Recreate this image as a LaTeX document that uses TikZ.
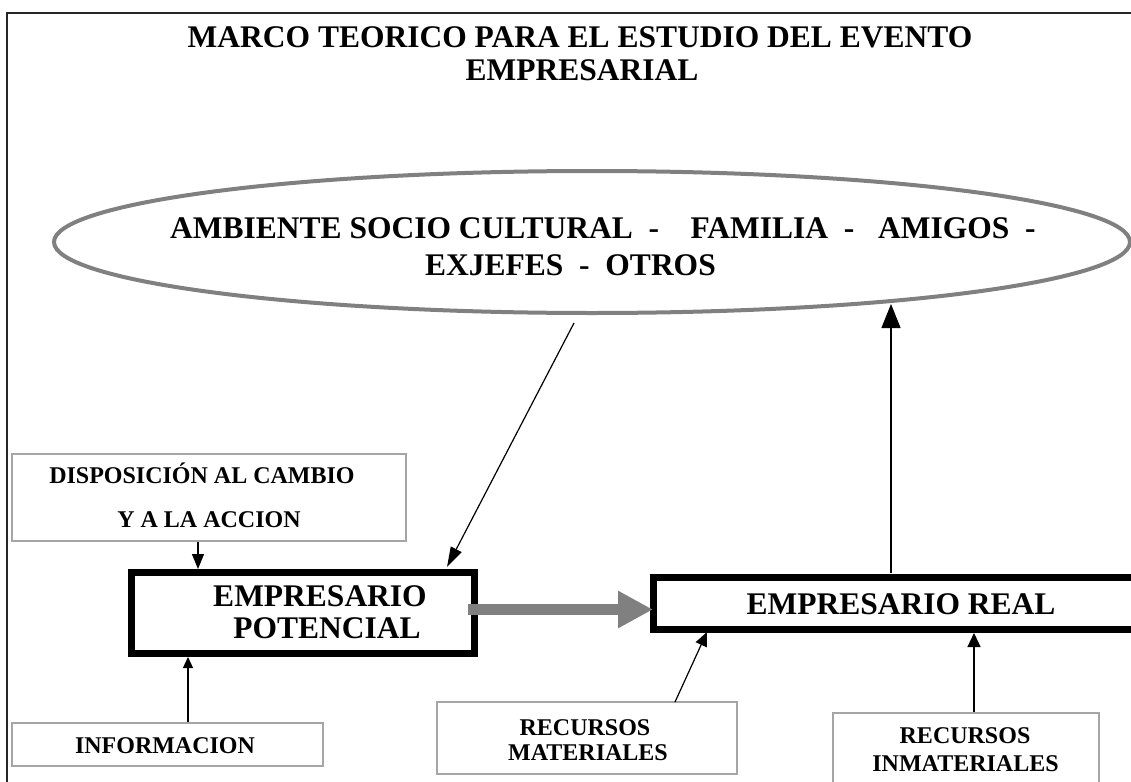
\documentclass[tikz,border=0pt]{standalone}
\usepackage{fontspec}
\setmainfont{Liberation Serif}
\usetikzlibrary{arrows.meta,shapes.geometric}
\definecolor{ellgray}{RGB}{128,128,128}
\definecolor{boxgray}{RGB}{165,165,165}
\definecolor{bigarrow}{RGB}{128,128,128}
\begin{document}
\begin{tikzpicture}[x=1pt,y=-1pt,
  txt/.style={font=\bfseries\fontsize{#1}{#1}\selectfont, inner sep=0pt, anchor=base},
  thinbox/.style={draw=boxgray, line width=1.5pt, inner sep=0pt},
  thickbox/.style={draw=black, line width=7pt, inner sep=0pt},
  conn/.style={draw=black, line width=1.2pt}]
\useasboundingbox (0,0) rectangle (1131,781);
\fill[white] (0,0) rectangle (1131,781);
% frame
\coordinate (ftl) at (7,13);
\coordinate (ftr) at (1135,13);
\coordinate (fbl) at (7,785);
\draw[line width=2pt, black!85] (ftr) -- (ftl) -- (fbl);
% title
\node[txt=31.5] (t1) at (580,48) {MARCO TEORICO PARA EL ESTUDIO DEL EVENTO};
\node[txt=31.5] (t2) at (582,81) {EMPRESARIAL};
% ellipse
\node[ellipse, draw=ellgray, line width=4pt, minimum width=1076pt, minimum height=142pt, inner sep=0pt] (amb) at (592,242) {};
\node[txt=31.5, anchor=base west] (amb1) at (170,238) {AMBIENTE SOCIO CULTURAL\ \ -\ \ \ \ FAMILIA\ \ -\ \ \ AMIGOS\ \ -};
\node[txt=31.5, anchor=base west] (amb2) at (425,275) {EXJEFES\ \ -\ \ OTROS};
% boxes
\node[thinbox, minimum width=394pt, minimum height=87pt] (disp) at (209,497.5) {};
\node[txt=24] (disp1) at (202,483) {DISPOSICIÓN AL CAMBIO};
\node[txt=24] (disp2) at (209,527) {Y A LA ACCION};
\node[thickbox, minimum width=343pt, minimum height=81pt] (pot) at (303,613) {};
\node[txt=31.5] (pot1) at (320,606) {EMPRESARIO};
\node[txt=31.5] (pot2) at (327,638) {POTENCIAL};
\node[thickbox, minimum width=495pt, minimum height=52pt] (real) at (901,603.5) {};
\node[txt=31.5] (real1) at (901,614) {EMPRESARIO REAL};
\node[thinbox, minimum width=311pt, minimum height=43pt] (info) at (167.5,744.5) {};
\node[txt=24] (info1) at (165,753) {INFORMACION};
\node[thinbox, minimum width=300pt, minimum height=72pt] (mat) at (587,738) {};
\node[txt=24] (mat1) at (585,735) {RECURSOS};
\node[txt=24] (mat2) at (588,760) {MATERIALES};
\node[thinbox, minimum width=266pt, minimum height=100pt] (inm) at (966,763) {};
\node[txt=24] (inm1) at (965,743) {RECURSOS};
\node[txt=24] (inm2) at (965.5,771) {INMATERIALES};
% connector end points
\coordinate (a1s) at (574,323);
\coordinate (a1e) at (447,567);
\coordinate (a4s) at (468,609.5);
\coordinate (a4e) at (653,609.5);
\coordinate (a5s) at (891,573);
\coordinate (a5e) at (891,304);
\coordinate (a6s) at (675,702);
\coordinate (a6e) at (707,632);
% connectors
\draw[conn, -{Triangle[length=20pt,width=12pt]}] (a1s) -- (a1e);
\draw[conn, -{Triangle[length=15pt,width=12pt]}] (disp.south -| 198,0) -- (pot.north -| 198,0);
\draw[conn, -{Triangle[length=11pt,width=10pt]}] (info.north -| 188,0) -- (pot.south -| 188,0);
\draw[bigarrow, line width=11pt, -{Triangle[length=35pt,width=35pt]}] (a4s) -- (a4e);
\draw[conn, -{Triangle[length=24pt,width=19pt]}] (a5s) -- (a5e);
\draw[conn, -{Triangle[length=14pt,width=12pt]}] (a6s) -- (a6e);
\draw[conn, -{Triangle[length=14pt,width=13pt]}] (inm.north -| 974,0) -- (real.south -| 974,0);
\end{tikzpicture}
\end{document}
